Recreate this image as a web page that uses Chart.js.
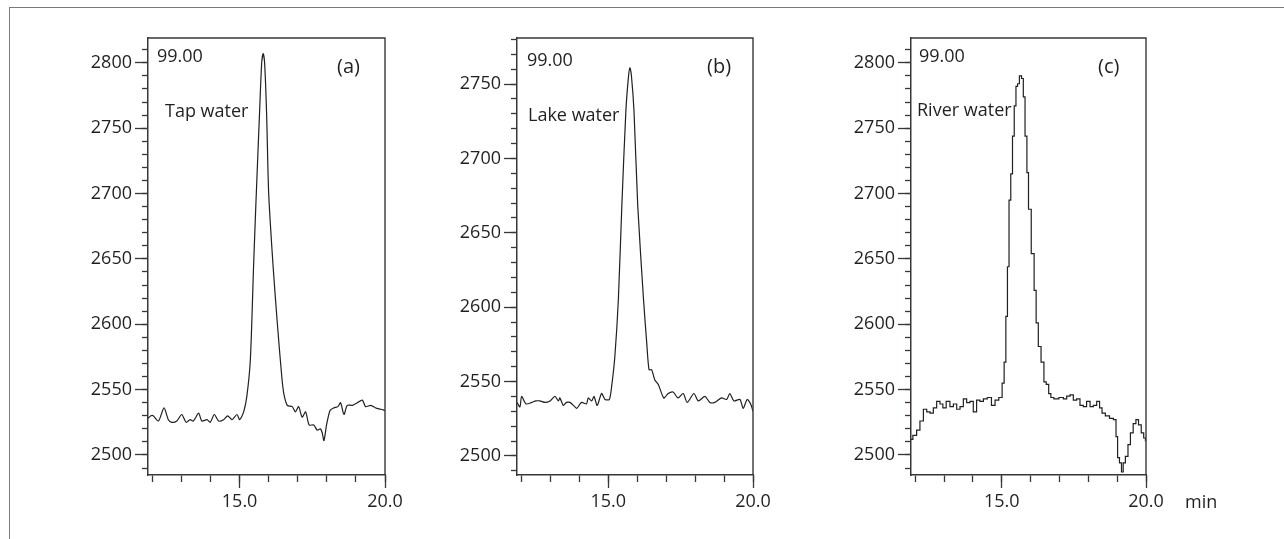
<!DOCTYPE html>
<html lang="en">
<head>
    <meta charset="UTF-8">
    <title>Chromatograms: tap, lake and river water</title>
    <script src="https://cdn.jsdelivr.net/npm/chart.js"></script>
    <style>
        body {
            margin: 0;
            background: #fff;
        }
        #page {
            position: relative;
            width: 1284px;
            height: 539px;
            overflow: hidden;
        }
        #frame {
            position: absolute;
            left: 9px;
            top: 7px;
            width: 1300px;
            height: 560px;
            border-left: 1px solid #7a7a7a;
            border-top: 1px solid #7a7a7a;
        }
        canvas {
            position: absolute;
            top: 0;
        }
    </style>
</head>
<body>
<div id="page">
    <div id="frame"></div>
    <canvas id="chartA" width="367" height="539" style="left:58px"></canvas>
    <canvas id="chartB" width="366" height="539" style="left:427px"></canvas>
    <canvas id="chartC" width="425" height="539" style="left:821px"></canvas>
</div>
<script>
    // retention time (min) and detector signal
    const tapTime = [11.85, 11.95, 12.03, 12.21, 12.40, 12.55, 12.67, 12.84, 13.01, 13.16, 13.30, 13.41, 13.59, 13.70, 13.88, 13.99, 14.13, 14.28, 14.45, 14.59, 14.74, 14.91, 15.00, 15.14, 15.25, 15.37, 15.48, 15.56, 15.69, 15.76, 15.81, 15.86, 15.93, 16.00, 16.15, 16.30, 16.45, 16.52, 16.64, 16.81, 16.92, 17.03, 17.15, 17.27, 17.39, 17.55, 17.67, 17.78, 17.84, 17.90, 17.99, 18.11, 18.24, 18.38, 18.47, 18.59, 18.70, 18.88, 19.05, 19.22, 19.33, 19.51, 19.68, 19.85, 20.00];
    const tapSignal = [2528, 2530, 2530, 2526, 2536, 2527, 2525, 2526, 2531, 2525, 2527, 2526, 2532, 2526, 2527, 2525, 2531, 2526, 2527, 2530, 2527, 2531, 2527, 2533, 2545, 2573, 2644, 2692, 2764, 2800, 2807, 2800, 2760, 2700, 2645, 2600, 2560, 2547, 2538, 2537, 2533, 2537, 2529, 2533, 2523, 2523, 2519, 2520, 2517, 2511, 2523, 2534, 2536, 2537, 2540, 2531, 2538, 2538, 2540, 2542, 2537, 2538, 2536, 2535, 2534];

    const lakeTime = [11.85, 11.95, 12.01, 12.16, 12.36, 12.50, 12.64, 12.82, 12.99, 13.16, 13.28, 13.33, 13.45, 13.56, 13.68, 13.80, 13.91, 14.08, 14.25, 14.31, 14.43, 14.51, 14.62, 14.77, 14.89, 15.04, 15.12, 15.23, 15.35, 15.47, 15.61, 15.70, 15.75, 15.80, 15.89, 16.02, 16.22, 16.33, 16.41, 16.50, 16.61, 16.73, 16.92, 17.07, 17.24, 17.41, 17.59, 17.73, 17.96, 18.11, 18.34, 18.51, 18.68, 18.91, 19.09, 19.20, 19.34, 19.55, 19.66, 19.80, 19.92, 20.00];
    const lakeSignal = [2536, 2533, 2540, 2535, 2536, 2537, 2537, 2536, 2537, 2540, 2537, 2539, 2534, 2536, 2536, 2534, 2532, 2536, 2535, 2539, 2537, 2540, 2534, 2542, 2538, 2538, 2547, 2567, 2605, 2668, 2732, 2755, 2761, 2756, 2732, 2668, 2605, 2576, 2558, 2558, 2551, 2548, 2539, 2542, 2543, 2539, 2542, 2536, 2542, 2537, 2540, 2536, 2536, 2539, 2538, 2542, 2537, 2538, 2532, 2538, 2535, 2530];

    const riverTime = [11.84, 11.99, 12.10, 12.22, 12.34, 12.45, 12.57, 12.68, 12.80, 12.91, 13.00, 13.14, 13.26, 13.38, 13.49, 13.61, 13.72, 13.84, 13.95, 14.07, 14.18, 14.30, 14.42, 14.57, 14.71, 14.82, 14.97, 15.05, 15.11, 15.17, 15.22, 15.28, 15.34, 15.40, 15.46, 15.52, 15.57, 15.65, 15.72, 15.77, 15.84, 15.90, 15.95, 16.09, 16.15, 16.23, 16.30, 16.42, 16.50, 16.58, 16.67, 16.73, 16.88, 17.08, 17.19, 17.31, 17.42, 17.54, 17.65, 17.77, 17.88, 18.00, 18.12, 18.23, 18.35, 18.43, 18.52, 18.66, 18.81, 18.93, 18.99, 19.04, 19.12, 19.18, 19.24, 19.33, 19.42, 19.50, 19.61, 19.69, 19.79, 19.88, 19.96, 20.00];
    const riverSignal = [2512, 2515, 2519, 2526, 2535, 2533, 2532, 2536, 2541, 2539, 2536, 2541, 2537, 2539, 2535, 2537, 2543, 2540, 2541, 2533, 2542, 2541, 2543, 2544, 2538, 2542, 2544, 2555, 2571, 2606, 2644, 2695, 2715, 2744, 2767, 2782, 2784, 2790, 2788, 2774, 2744, 2716, 2688, 2654, 2626, 2601, 2583, 2571, 2556, 2554, 2547, 2544, 2543, 2544, 2543, 2545, 2546, 2542, 2543, 2538, 2537, 2541, 2537, 2538, 2541, 2536, 2532, 2530, 2528, 2527, 2514, 2498, 2494, 2487, 2494, 2499, 2508, 2517, 2524, 2527, 2523, 2517, 2513, 2511];

    // axes
    const xMinorTicks = [12, 13, 14, 15, 16, 17, 18, 19, 20];
    const xMajorTicks = [15, 20];
    const xMajorLabels = ['15.0', '20.0'];
    const yLabelsAC = [2500, 2550, 2600, 2650, 2700, 2750, 2800];
    const yLabelsB = [2500, 2550, 2600, 2650, 2700, 2750];

    const ink = '#231f20';
    const axisInk = '#3a3637';
    const fontFamily = '"Open Sans", "Noto Sans", sans-serif';

    function range(lo, hi, step) {
        const out = [];
        for (let v = lo; v <= hi; v += step) out.push(v);
        return out;
    }

    // top + right edge of each plot box
    const boxPlugin = {
        id: 'box',
        afterDraw(chart) {
            const { ctx, chartArea: a } = chart;
            ctx.save();
            ctx.strokeStyle = axisInk;
            ctx.lineWidth = 1.4;
            ctx.beginPath();
            ctx.moveTo(a.left, a.top);
            ctx.lineTo(a.right, a.top);
            ctx.lineTo(a.right, a.bottom);
            ctx.stroke();
            ctx.restore();
        }
    };

    const textPlugin = {
        id: 'panelText',
        afterDraw(chart, args, opts) {
            const { ctx, chartArea: a } = chart;
            ctx.save();
            ctx.fillStyle = ink;
            ctx.textBaseline = 'middle';
            ctx.textAlign = 'left';
            opts.items.forEach(it => {
                ctx.font = it.size + 'px ' + fontFamily;
                const y = it.fromBottom ? a.bottom + it.dy : a.top + it.dy;
                ctx.fillText(it.text, a.left + it.dx, y);
            });
            ctx.restore();
        }
    };

    function makePanel(id, time, signal, p) {
        const points = time.map((t, i) => ({ x: t, y: signal[i] }));
        const tickFont = { family: fontFamily, size: 18 };
        new Chart(document.getElementById(id), {
            type: 'line',
            data: {
                datasets: [{
                    data: points,
                    borderColor: ink,
                    borderWidth: 1.2,
                    pointRadius: 0,
                    fill: false,
                    tension: p.stepped ? 0 : 0.25,
                    stepped: p.stepped ? 'middle' : false
                }]
            },
            options: {
                responsive: false,
                animation: false,
                layout: { padding: { top: 38, right: p.padRight, bottom: 14, left: 0 } },
                plugins: {
                    legend: { display: false },
                    tooltip: { enabled: false },
                    panelText: { items: p.notes }
                },
                scales: {
                    x: {
                        type: 'linear', position: 'bottom', min: 11.85, max: 20, weight: 0,
                        afterBuildTicks: s => { s.ticks = xMinorTicks.map(v => ({ value: v })); },
                        afterFit: s => { s.height = 0; },
                        ticks: { display: false },
                        grid: { drawOnChartArea: false, tickLength: 7, tickColor: axisInk, tickWidth: 1.3 },
                        border: { display: true, color: axisInk, width: 1.5 }
                    },
                    xMajor: {
                        type: 'linear', position: 'bottom', min: 11.85, max: 20, weight: 1,
                        afterBuildTicks: s => { s.ticks = xMajorTicks.map(v => ({ value: v })); },
                        afterFit: s => { s.height = 50; },
                        ticks: {
                            callback: (v, i) => xMajorLabels[i],
                            font: tickFont, color: ink, padding: 3,
                            maxRotation: 0, autoSkip: false
                        },
                        grid: { drawOnChartArea: false, tickLength: 13, tickColor: axisInk, tickWidth: 1.3 },
                        border: { display: false }
                    },
                    y: {
                        type: 'linear', position: 'left', min: p.yMin, max: p.yMax, weight: 0,
                        afterBuildTicks: s => { s.ticks = p.yMinor.map(v => ({ value: v })); },
                        afterFit: s => { s.width = 0; },
                        ticks: { display: false },
                        grid: { drawOnChartArea: false, tickLength: 6, tickColor: axisInk, tickWidth: 1.3 },
                        border: { display: true, color: axisInk, width: 1.5 }
                    },
                    yMajor: {
                        type: 'linear', position: 'left', min: p.yMin, max: p.yMax, weight: 1,
                        afterBuildTicks: s => { s.ticks = p.yLabels.map(v => ({ value: v })); },
                        afterFit: s => { s.width = 90; },
                        ticks: { font: tickFont, color: ink, padding: 3, callback: v => String(v) },
                        grid: { drawOnChartArea: false, tickLength: 13, tickColor: axisInk, tickWidth: 1.3 },
                        border: { display: false }
                    }
                }
            },
            plugins: [boxPlugin, textPlugin]
        });
    }

    makePanel('chartA', tapTime, tapSignal, {
        yMin: 2484.7, yMax: 2819, yLabels: yLabelsAC, yMinor: range(2490, 2810, 10), padRight: 40,
        notes: [
            { text: '99.00', dx: 9, dy: 19, size: 18 },
            { text: '(a)', dx: 189, dy: 29, size: 20 },
            { text: 'Tap water', dx: 17, dy: 74, size: 18 }
        ]
    });

    makePanel('chartB', lakeTime, lakeSignal, {
        yMin: 2487.2, yMax: 2781, yLabels: yLabelsB, yMinor: range(2490, 2780, 10), padRight: 40,
        notes: [
            { text: '99.00', dx: 10, dy: 23, size: 18 },
            { text: '(b)', dx: 190, dy: 29, size: 20 },
            { text: 'Lake water', dx: 11, dy: 78, size: 18 }
        ]
    });

    makePanel('chartC', riverTime, riverSignal, {
        yMin: 2484.7, yMax: 2819, yLabels: yLabelsAC, yMinor: range(2490, 2810, 10), padRight: 100,
        stepped: true,
        notes: [
            { text: '99.00', dx: 8, dy: 19, size: 18 },
            { text: '(c)', dx: 187, dy: 29, size: 20 },
            { text: 'River water', dx: 6, dy: 73, size: 18 },
            { text: 'min', dx: 274, dy: 28, size: 18, fromBottom: true }
        ]
    });
</script>
</body>
</html>
